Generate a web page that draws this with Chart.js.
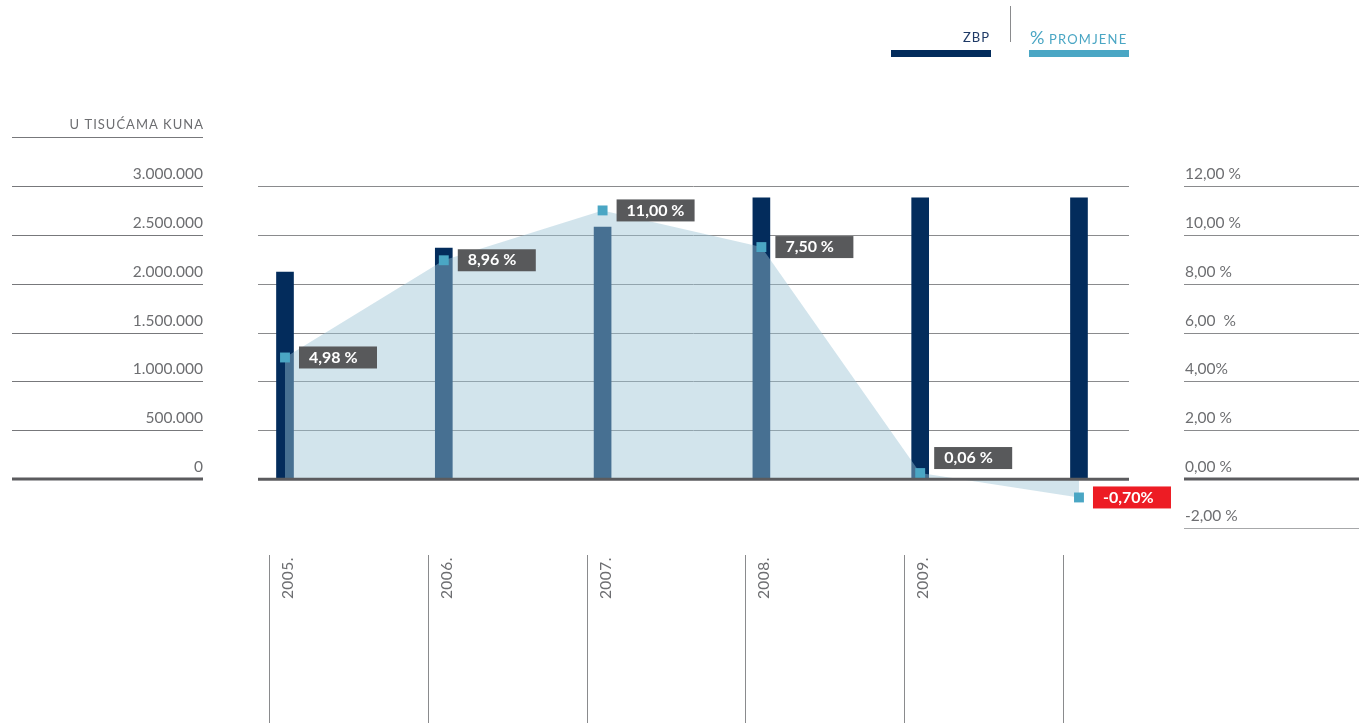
<!DOCTYPE html>
<html>
<head>
<meta charset="utf-8">
<script src="https://cdn.jsdelivr.net/npm/chart.js@4"></script>
<style>
  html, body { margin: 0; padding: 0; background: #fff; }
  #wrap { position: relative; width: 1359px; height: 723px; }
</style>
</head>
<body>
<div id="wrap"><canvas id="chartZbp"></canvas></div>
<script>
const years = [2005, 2006, 2007, 2008, 2009, 2010];
const yearLabels = ['2005.', '2006.', '2007.', '2008.', '2009.', ''];
const zbp = [2120000, 2365000, 2580000, 2880000, 2880000, 2880000];
const promjena = [4.98, 8.96, 11.0, 9.5, 0.25, -0.75];
const promjenaLabels = ['4,98 %', '8,96 %', '11,00 %', '7,50 %', '0,06 %', '-0,70%'];
const leftTicks = [0, 500000, 1000000, 1500000, 2000000, 2500000, 3000000];
const leftTickLabels = ['0', '500.000', '1.000.000', '1.500.000', '2.000.000', '2.500.000', '3.000.000'];
const rightTicks = [-2, 0, 2, 4, 6, 8, 10, 12];
const rightTickLabels = ['-2,00 %', '0,00 %', '2,00 %', '4,00%', '6,00  %', '8,00 %', '10,00 %', '12,00 %'];

const FONT = 'Lato, "Open Sans", sans-serif';
const NAVY = '#032c5c';
const LIGHT = '#4aa6c4';

function hline(ctx, x1, x2, y, color, w) {
  ctx.save();
  ctx.strokeStyle = color;
  ctx.lineWidth = w;
  ctx.beginPath();
  ctx.moveTo(x1, y);
  ctx.lineTo(x2, y);
  ctx.stroke();
  ctx.restore();
}

const decor = {
  id: 'decor',
  beforeDatasetsDraw(chart) {
    const { ctx, chartArea, scales } = chart;
    leftTicks.forEach(v => {
      if (v === 0) return;
      const y = Math.round(scales.y.getPixelForValue(v)) + 0.5;
      hline(ctx, chartArea.left, chartArea.right, y, '#8a8b8d', 1);
    });
  },
  afterDatasetsDraw(chart) {
    const { ctx, chartArea, scales } = chart;
    const y0 = scales.y.getPixelForValue(0);
    hline(ctx, chartArea.left, chartArea.right, y0, '#5b5b5e', 3);

    // oznake vrijednosti
    const meta = chart.getDatasetMeta(1);
    ctx.save();
    meta.data.forEach((pt, i) => {
      const v = promjena[i];
      const dy = (v > 0 && v < 1) ? -15 : 0;
      const bx = pt.x + 14;
      const by = pt.y + dy - 11;
      ctx.fillStyle = v < 0 ? '#ed1c24' : '#58595b';
      ctx.fillRect(bx, by, 78, 22);
      ctx.fillStyle = '#ffffff';
      ctx.font = 'bold 16px ' + FONT;
      ctx.textAlign = 'left';
      ctx.textBaseline = 'middle';
      ctx.fillText(promjenaLabels[i], bx + 10, by + 11);
    });
    ctx.restore();
  },
  afterDraw(chart) {
    const { ctx, scales } = chart;
    const yL = scales.y, yR = scales.y1, x = scales.x;
    ctx.save();
    ctx.fillStyle = '#6d6e71';
    ctx.font = '15.5px ' + FONT;
    ctx.textBaseline = 'alphabetic';

    // lijevi stupac
    ctx.textAlign = 'right';
    leftTicks.forEach((v, i) => {
      const y = Math.round(yL.getPixelForValue(v)) + 0.5;
      if (v === 0) hline(ctx, 12, 203, y - 0.5, '#5b5b5e', 3);
      else hline(ctx, 12, 203, y, '#77787b', 1);
      ctx.fillText(leftTickLabels[i], 203, y - 8);
    });
    const headY = Math.round(yL.getPixelForValue(3500000)) + 0.5;
    hline(ctx, 12, 203, headY, '#77787b', 1);
    ctx.save();
    ctx.font = '13px ' + FONT;
    ctx.letterSpacing = '1px';
    ctx.fillText('U TISUĆAMA KUNA', 204, headY - 9);
    ctx.restore();

    // desni stupac
    ctx.textAlign = 'left';
    rightTicks.forEach((v, i) => {
      const y = Math.round(yR.getPixelForValue(v)) + 0.5;
      if (v === 0) hline(ctx, 1184, 1359, y - 0.5, '#5b5b5e', 3);
      else hline(ctx, 1184, 1359, y, v < 0 ? '#a7a8aa' : '#8a8b8d', 1);
      ctx.fillText(rightTickLabels[i], 1185, y - 8);
    });

    // godine
    ctx.font = '15.5px ' + FONT;
    years.forEach((yr, i) => {
      const px = Math.round(x.getPixelForValue(yr)) - 16 + 0.5;
      ctx.strokeStyle = '#8a8b8d';
      ctx.lineWidth = 1;
      ctx.beginPath();
      ctx.moveTo(px, 555);
      ctx.lineTo(px, 723);
      ctx.stroke();
      if (yearLabels[i]) {
        ctx.save();
        ctx.translate(px + 18, 557);
        ctx.rotate(-Math.PI / 2);
        ctx.textAlign = 'right';
        ctx.textBaseline = 'middle';
        ctx.letterSpacing = '0.5px';
        ctx.fillText(yearLabels[i], 0, 0);
        ctx.restore();
      }
    });

    // legenda
    const ds = chart.data.datasets;
    ctx.fillStyle = NAVY;
    ctx.fillRect(891, 50, 100, 7);
    ctx.fillStyle = LIGHT;
    ctx.fillRect(1029, 50, 100, 7);
    ctx.strokeStyle = '#8a8b8d';
    ctx.beginPath();
    ctx.moveTo(1010.5, 6);
    ctx.lineTo(1010.5, 42);
    ctx.stroke();
    ctx.save();
    ctx.letterSpacing = '1px';
    ctx.textAlign = 'right';
    ctx.fillStyle = '#1f3a66';
    ctx.font = '13px ' + FONT;
    ctx.fillText(ds[0].label, 990, 42);
    ctx.textAlign = 'left';
    ctx.fillStyle = LIGHT;
    const parts = ds[1].label.split(' ');
    ctx.font = '18px ' + FONT;
    ctx.letterSpacing = '0px';
    ctx.fillText(parts[0], 1030, 44);
    ctx.font = '13px ' + FONT;
    ctx.letterSpacing = '1.2px';
    ctx.fillText(parts[1], 1049, 44);
    ctx.restore();

    ctx.restore();
  }
};

new Chart(document.getElementById('chartZbp'), {
  type: 'bar',
  data: {
    datasets: [{
      type: 'bar',
      label: 'ZBP',
      data: years.map((yr, i) => ({ x: yr, y: zbp[i] })),
      backgroundColor: NAVY,
      barThickness: 17,
      yAxisID: 'y',
      order: 2
    }, {
      type: 'line',
      label: '% PROMJENE',
      data: years.map((yr, i) => ({ x: yr, y: promjena[i] })),
      yAxisID: 'y1',
      borderWidth: 0,
      borderColor: 'transparent',
      backgroundColor: 'rgba(155,195,213,0.45)',
      fill: 'origin',
      tension: 0,
      pointStyle: 'rect',
      pointRadius: 7,
      pointBorderWidth: 0,
      pointBackgroundColor: LIGHT,
      pointBorderColor: LIGHT,
      order: 1
    }]
  },
  options: {
    responsive: true,
    maintainAspectRatio: false,
    animation: false,
    layout: { padding: { left: 258, right: 230, top: 186, bottom: 195 } },
    plugins: {
      legend: { display: false },
      tooltip: { enabled: false }
    },
    scales: {
      x: { type: 'linear', offset: false, min: 2004.83, max: 2010.315, display: false },
      y: { min: -500000, max: 3000000, display: false },
      y1: { position: 'right', min: -2, max: 12, display: false }
    }
  },
  plugins: [decor]
});
</script>
</body>
</html>
